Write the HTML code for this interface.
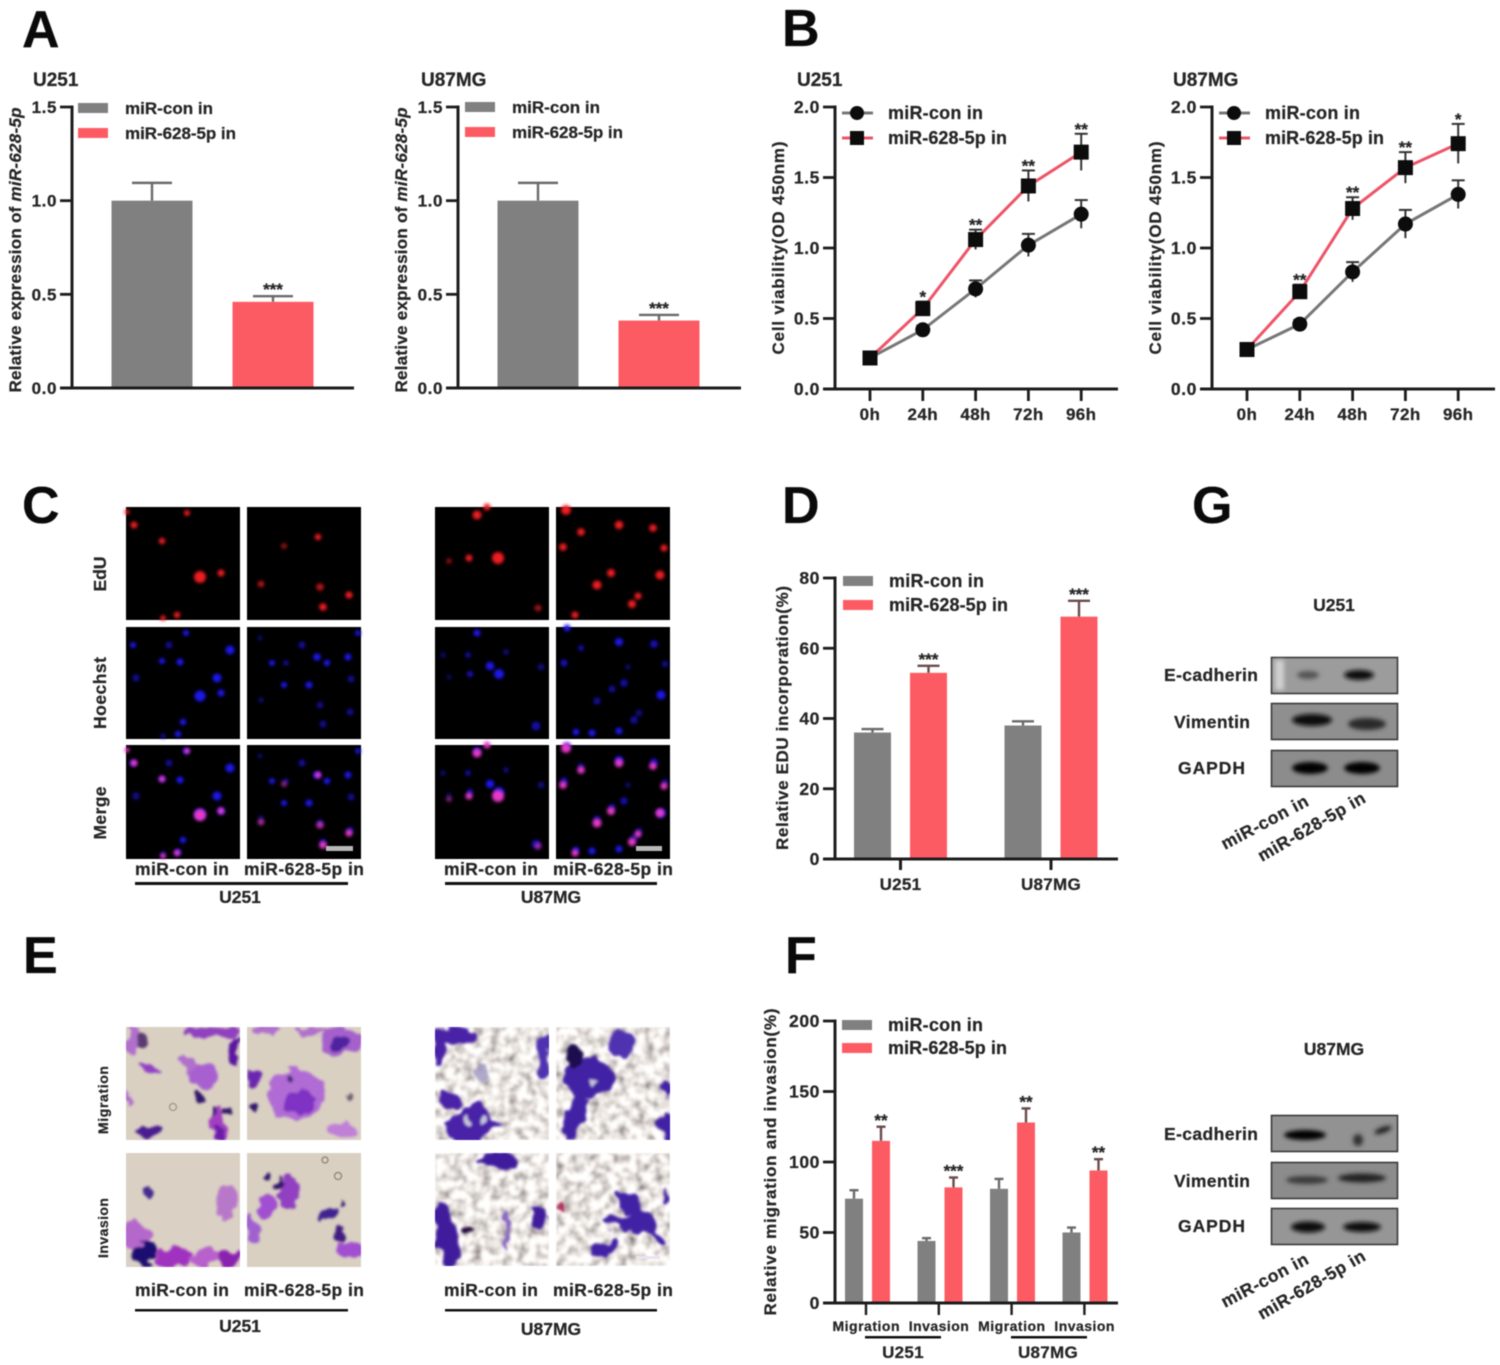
<!DOCTYPE html>
<html lang="en">
<head>
<meta charset="utf-8">
<title>miR-628-5p figure panels</title>
<style>
html,body{margin:0;padding:0;background:#fff;width:1500px;height:1365px;overflow:hidden}
#figure{display:block;filter:blur(0.65px);font-family:"Liberation Sans",Arial,sans-serif;font-weight:bold;fill:#262626}
#figure text{stroke:#262626;stroke-width:.25px}
.letter{font-size:52px;fill:#0a0a0a}
.lab{font-size:17.5px}
.lab2{font-size:14px}
</style>
</head>
<body>
<svg id="figure" xmlns="http://www.w3.org/2000/svg" width="1500" height="1365" viewBox="0 0 1500 1365">
<defs>
  <filter id="soft" x="-20%" y="-20%" width="140%" height="140%"><feGaussianBlur stdDeviation="1.5"/></filter>
  <filter id="blob" x="-20%" y="-20%" width="140%" height="140%">
    <feTurbulence type="fractalNoise" baseFrequency="0.07" numOctaves="2" seed="3" result="n"/>
    <feDisplacementMap in="SourceGraphic" in2="n" scale="16" xChannelSelector="R" yChannelSelector="G"/>
    <feGaussianBlur stdDeviation="1.4"/>
  </filter>
  <filter id="band" x="-40%" y="-80%" width="180%" height="260%"><feGaussianBlur stdDeviation="2.2"/></filter>
  <filter id="tex" x="0" y="0" width="100%" height="100%">
    <feTurbulence type="fractalNoise" baseFrequency="0.11" numOctaves="2" seed="7"/>
    <feColorMatrix type="matrix" values="0 0 0 1.5 0.08  0 0 0 1.5 0.04  0 0 0 1.4 0.06  0 0 0 0 1"/>
    <feGaussianBlur stdDeviation="1"/>
  </filter>
  <g id="e1"><circle cx="134" cy="525" r="3.5"/><circle cx="187" cy="513" r="3"/><circle cx="162" cy="541" r="3.2"/><circle cx="200" cy="577" r="6"/><circle cx="221" cy="573" r="3.5"/><circle cx="177" cy="615" r="3.2"/><circle cx="163" cy="618" r="2.8"/><circle cx="127" cy="512" r="2.5"/></g>
  <g id="e2"><circle cx="318" cy="537" r="3.2"/><circle cx="284" cy="546" r="3" opacity=".6"/><circle cx="261" cy="584" r="3.3" opacity=".75"/><circle cx="320" cy="587" r="3.8" opacity=".75"/><circle cx="349" cy="595" r="3.6"/><circle cx="323" cy="607" r="3.8"/></g>
  <g id="e3"><circle cx="477" cy="515" r="4.5"/><circle cx="487" cy="507" r="3.5"/><circle cx="449" cy="561" r="3" opacity=".55"/><circle cx="469" cy="558" r="3.5"/><circle cx="498" cy="558" r="6"/><circle cx="538" cy="608" r="3.5" opacity=".65"/></g>
  <g id="e4"><circle cx="566" cy="510" r="5"/><circle cx="619" cy="525" r="4.2"/><circle cx="581" cy="532" r="3.8"/><circle cx="653" cy="528" r="3.8"/><circle cx="563" cy="547" r="3.8"/><circle cx="664" cy="548" r="3.5"/><circle cx="611" cy="573" r="4"/><circle cx="660" cy="575" r="4.5"/><circle cx="597" cy="585" r="4.5"/><circle cx="638" cy="596" r="3.5"/><circle cx="632" cy="604" r="4"/><circle cx="575" cy="615" r="3.5"/></g>
  <g id="h1"><circle cx="133" cy="645" r="3"/><circle cx="169" cy="645" r="3.5" opacity=".6"/><circle cx="186" cy="633" r="3"/><circle cx="230" cy="650" r="4.5"/><circle cx="162" cy="661" r="3"/><circle cx="180" cy="662" r="3.5"/><circle cx="136" cy="678" r="3.8" opacity=".55"/><circle cx="217" cy="678" r="4.5"/><circle cx="200" cy="696" r="5.5"/><circle cx="221" cy="693" r="3.5"/><circle cx="183" cy="722" r="3.2"/><circle cx="178" cy="734" r="3.2"/><circle cx="163" cy="736" r="2.8" opacity=".6"/></g>
  <g id="h2"><circle cx="302" cy="645" r="3.5" opacity=".65"/><circle cx="260" cy="638" r="3" opacity=".35"/><circle cx="272" cy="663" r="3"/><circle cx="286" cy="663" r="3" opacity=".55"/><circle cx="317" cy="657" r="3.8"/><circle cx="327" cy="663" r="3.2"/><circle cx="348" cy="657" r="3.5"/><circle cx="358" cy="633" r="2.8"/><circle cx="351" cy="679" r="3.5" opacity=".6"/><circle cx="284" cy="685" r="3"/><circle cx="309" cy="685" r="3.5"/><circle cx="261" cy="700" r="3.2" opacity=".35"/><circle cx="320" cy="705" r="3.5" opacity=".55"/><circle cx="350" cy="712" r="3.5" opacity=".6"/><circle cx="323" cy="724" r="3.5" opacity=".6"/></g>
  <g id="h3"><circle cx="477" cy="633" r="3.5"/><circle cx="443" cy="655" r="3" opacity=".4"/><circle cx="468" cy="655" r="3" opacity=".65"/><circle cx="506" cy="652" r="3" opacity=".5"/><circle cx="490" cy="666" r="4.2"/><circle cx="499" cy="674" r="5"/><circle cx="470" cy="674" r="3.2" opacity=".75"/><circle cx="541" cy="667" r="3.5" opacity=".5"/><circle cx="449" cy="677" r="3" opacity=".3"/><circle cx="536" cy="726" r="4.5" opacity=".7"/></g>
  <g id="h4"><circle cx="567" cy="628" r="3.5"/><circle cx="619" cy="642" r="4"/><circle cx="581" cy="648" r="3" opacity=".7"/><circle cx="654" cy="644" r="3.8" opacity=".8"/><circle cx="564" cy="663" r="3.5" opacity=".8"/><circle cx="665" cy="664" r="3.2" opacity=".6"/><circle cx="628" cy="667" r="3" opacity=".4"/><circle cx="624" cy="683" r="3.8" opacity=".7"/><circle cx="612" cy="689" r="3.3" opacity=".7"/><circle cx="661" cy="695" r="4.5"/><circle cx="597" cy="701" r="3.8" opacity=".6"/><circle cx="634" cy="720" r="3.8" opacity=".65"/><circle cx="639" cy="713" r="3.5" opacity=".5"/><circle cx="576" cy="732" r="3.3"/><circle cx="592" cy="733" r="3.5"/><circle cx="619" cy="731" r="3.5"/></g>
</defs>
<rect width="1500" height="1365" fill="#fff"/>

<!-- panel letters -->
<text class="letter" x="22" y="47">A</text>
<text class="letter" x="782" y="46">B</text>
<text class="letter" x="22" y="523">C</text>
<text class="letter" x="782" y="523">D</text>
<text class="letter" x="1192" y="523">G</text>
<text class="letter" x="23" y="973">E</text>
<text class="letter" x="785" y="973">F</text>

<!-- panel C: EdU micrographs -->
<g>
  <g fill="#000">
    <rect x="126" y="507" width="114" height="113"/><rect x="247" y="507" width="114" height="113"/><rect x="435" y="507" width="114" height="113"/><rect x="556" y="507" width="114" height="113"/>
    <rect x="126" y="627" width="114" height="112"/><rect x="247" y="627" width="114" height="112"/><rect x="435" y="627" width="114" height="112"/><rect x="556" y="627" width="114" height="112"/>
    <rect x="126" y="745" width="114" height="114"/><rect x="247" y="745" width="114" height="114"/><rect x="435" y="745" width="114" height="114"/><rect x="556" y="745" width="114" height="114"/>
  </g>
  <g filter="url(#soft)" fill="#f01a22"><use href="#e1"/><use href="#e2"/><use href="#e3"/><use href="#e4"/></g>
  <g filter="url(#soft)" fill="#1f14f0"><use href="#h1"/><use href="#h2"/><use href="#h3"/><use href="#h4"/></g>
  <g filter="url(#soft)" fill="#1f14f0" transform="translate(0,118)"><use href="#h1"/><use href="#h2"/><use href="#h3"/><use href="#h4"/></g>
  <g filter="url(#soft)" fill="#e838c8" transform="translate(0,238)"><use href="#e1"/><use href="#e2"/><use href="#e3"/><use href="#e4"/></g>
  <rect x="326" y="846" width="27" height="5" fill="#b8b8b8"/>
  <rect x="636" y="846" width="26" height="5" fill="#b8b8b8"/>
  <text class="lab" transform="translate(106,574) rotate(-90)" text-anchor="middle">EdU</text>
  <text class="lab" transform="translate(106,693) rotate(-90)" text-anchor="middle" textLength="72">Hoechst</text>
  <text class="lab" transform="translate(106,813) rotate(-90)" text-anchor="middle" textLength="53">Merge</text>
  <text class="lab" x="135" y="875" textLength="94">miR-con in</text>
  <text class="lab" x="244" y="875" textLength="120">miR-628-5p in</text>
  <text class="lab" x="444" y="875" textLength="94">miR-con in</text>
  <text class="lab" x="553" y="875" textLength="120">miR-628-5p in</text>
  <rect x="135" y="882" width="213" height="3" fill="#111"/>
  <rect x="445" y="882" width="212" height="3" fill="#111"/>
  <text class="lab" x="240" y="903" text-anchor="middle">U251</text>
  <text class="lab" x="551" y="903" text-anchor="middle">U87MG</text>
</g>

<!-- panel E: transwell micrographs -->
<g>
  <svg x="126" y="1027" width="114" height="113" viewBox="126 1027 114 113">
    <rect x="126" y="1027" width="114" height="113" fill="#d9d0c2"/>
    <g filter="url(#blob)">
      <ellipse cx="133" cy="1040" rx="8" ry="13" fill="#b070cc"/><ellipse cx="142" cy="1041" rx="5" ry="7" fill="#5a3a70"/>
      <ellipse cx="150" cy="1068" rx="12" ry="5" fill="#9040c4" transform="rotate(25 150 1068)"/>
      <ellipse cx="210" cy="1033" rx="28" ry="6" fill="#9040c0"/><ellipse cx="235" cy="1050" rx="6" ry="14" fill="#5a18a0"/>
      <ellipse cx="197" cy="1072" rx="22" ry="6" fill="#b070cc" transform="rotate(45 197 1072)"/><ellipse cx="205" cy="1075" rx="12" ry="13" fill="#a860d0"/>
      <ellipse cx="198" cy="1097" rx="4" ry="6" fill="#33186a"/>
      <ellipse cx="220" cy="1125" rx="8" ry="15" fill="#a040c0"/><ellipse cx="219" cy="1132" rx="5" ry="8" fill="#6a1ca8"/><circle cx="215" cy="1113" r="3" fill="#33186a"/><circle cx="227" cy="1111" r="3" fill="#33186a"/>
      <ellipse cx="150" cy="1131" rx="13" ry="6" fill="#4a1a90"/><ellipse cx="129" cy="1098" rx="3" ry="6" fill="#b070cc"/>
    </g>
    <circle cx="173" cy="1107" r="3.5" fill="none" stroke="#a89e90" stroke-width="1.5"/>
  </svg>
  <svg x="247" y="1027" width="114" height="113" viewBox="247 1027 114 113">
    <rect x="247" y="1027" width="114" height="113" fill="#d9d0c2"/>
    <g filter="url(#blob)">
      <ellipse cx="268" cy="1030" rx="14" ry="5" fill="#b070cc"/><ellipse cx="340" cy="1040" rx="20" ry="14" fill="#a560cc"/><ellipse cx="342" cy="1042" rx="8" ry="8" fill="#5020a0"/><ellipse cx="310" cy="1031" rx="16" ry="4" fill="#b070cc"/>
      <ellipse cx="255" cy="1078" rx="8" ry="8" fill="#6a28b0"/>
      <ellipse cx="295" cy="1095" rx="28" ry="25" fill="#b06cd4"/><ellipse cx="300" cy="1102" rx="15" ry="13" fill="#8030c4"/><circle cx="290" cy="1078" r="4" fill="#4a2a80"/>
      <circle cx="253" cy="1108" r="5" fill="#33186a"/><circle cx="348" cy="1095" r="3" fill="#6f6070"/><ellipse cx="340" cy="1132" rx="16" ry="9" fill="#c080d8"/>
    </g>
  </svg>
  <svg x="126" y="1153" width="114" height="114" viewBox="126 1153 114 114">
    <rect x="126" y="1153" width="114" height="114" fill="#dad1c4"/>
    <g filter="url(#blob)">
      <ellipse cx="134" cy="1235" rx="14" ry="14" fill="#b568cc"/><ellipse cx="175" cy="1257" rx="18" ry="12" fill="#a030c0"/><ellipse cx="205" cy="1258" rx="14" ry="10" fill="#b860cc"/><ellipse cx="228" cy="1258" rx="12" ry="8" fill="#8a20b0"/>
      <circle cx="145" cy="1254" r="12" fill="#1a0a70"/><ellipse cx="226" cy="1201" rx="10" ry="15" fill="#b878ca"/><circle cx="147" cy="1192" r="4" fill="#4a2a90"/>
    </g>
  </svg>
  <svg x="247" y="1153" width="114" height="114" viewBox="247 1153 114 114">
    <rect x="247" y="1153" width="114" height="114" fill="#d9d0c2"/>
    <g filter="url(#blob)">
      <ellipse cx="290" cy="1190" rx="10" ry="17" fill="#9040c0"/><ellipse cx="267" cy="1205" rx="10" ry="14" fill="#a050d0" transform="rotate(20 267 1205)"/><ellipse cx="253" cy="1230" rx="6" ry="14" fill="#a060d0" transform="rotate(-15 253 1230)"/>
      <circle cx="266" cy="1175" r="4.5" fill="#33186a"/><ellipse cx="278" cy="1183" rx="6" ry="5" fill="#33186a"/>
      <ellipse cx="330" cy="1212" rx="8" ry="8" fill="#402090"/><circle cx="340" cy="1202" r="3" fill="#33186a"/><ellipse cx="340" cy="1235" rx="6" ry="8" fill="#401a80"/><ellipse cx="350" cy="1250" rx="14" ry="8" fill="#a050d0"/>
    </g>
    <circle cx="338" cy="1176" r="3.5" fill="none" stroke="#968c80" stroke-width="1.5"/><circle cx="325" cy="1160" r="3" fill="none" stroke="#968c80" stroke-width="1.5"/>
  </svg>
  <svg x="435" y="1027" width="114" height="113" viewBox="435 1027 114 113">
    <rect x="435" y="1027" width="114" height="113" filter="url(#tex)"/>
    <g filter="url(#blob)" fill="#4a22a8">
      <ellipse cx="455" cy="1036" rx="24" ry="9"/><ellipse cx="440" cy="1050" rx="6" ry="12"/><ellipse cx="543" cy="1057" rx="7" ry="24" fill="#5030b0"/>
      <ellipse cx="450" cy="1100" rx="14" ry="8" transform="rotate(25 450 1100)"/>
      <polygon points="448,1125 465,1110 482,1100 500,1125 480,1142 448,1142"/><ellipse cx="480" cy="1072" rx="7" ry="8" fill="#9088b8" opacity=".7"/>
      <circle cx="468" cy="1122" r="4" fill="#c8c4dc"/><circle cx="485" cy="1120" r="3.5" fill="#c8c4dc"/>
    </g>
  </svg>
  <svg x="556" y="1027" width="114" height="113" viewBox="556 1027 114 113">
    <rect x="556" y="1027" width="114" height="113" filter="url(#tex)"/>
    <g filter="url(#blob)" fill="#4220a4">
      <ellipse cx="588" cy="1078" rx="26" ry="20"/><ellipse cx="575" cy="1118" rx="9" ry="24" transform="rotate(22 575 1118)"/><ellipse cx="622" cy="1045" rx="14" ry="13" fill="#5030b0"/>
      <ellipse cx="666" cy="1127" rx="8" ry="15"/><ellipse cx="666" cy="1087" rx="6" ry="9"/><ellipse cx="573" cy="1056" rx="8" ry="12" fill="#1f0e50"/><circle cx="592" cy="1080" r="3.5" fill="#c8c4dc"/>
    </g>
  </svg>
  <svg x="435" y="1153" width="114" height="113" viewBox="435 1153 114 113">
    <rect x="435" y="1153" width="114" height="113" filter="url(#tex)"/>
    <g filter="url(#blob)" fill="#3f1c9c">
      <ellipse cx="498" cy="1161" rx="19" ry="9"/><ellipse cx="447" cy="1235" rx="11" ry="34" transform="rotate(-15 447 1235)"/><ellipse cx="540" cy="1218" rx="9" ry="10"/><ellipse cx="506" cy="1232" rx="3.5" ry="20" fill="#8a6ac0"/><circle cx="469" cy="1231" r="4" fill="#2a0f40"/>
    </g>
  </svg>
  <svg x="556" y="1153" width="114" height="113" viewBox="556 1153 114 113">
    <rect x="556" y="1153" width="114" height="113" filter="url(#tex)"/>
    <g filter="url(#blob)" fill="#4220a4">
      <ellipse cx="636" cy="1212" rx="26" ry="8" transform="rotate(45 636 1212)"/><ellipse cx="628" cy="1224" rx="28" ry="6" transform="rotate(10 628 1224)"/><ellipse cx="605" cy="1248" rx="15" ry="6" transform="rotate(-25 605 1248)"/><ellipse cx="660" cy="1237" rx="12" ry="5" transform="rotate(40 660 1237)"/><ellipse cx="666" cy="1197" rx="3" ry="8"/><circle cx="561" cy="1208" r="4" fill="#b03060"/>
    </g>
  </svg>
  <rect x="636" y="1256" width="24" height="3" fill="#e8e4f0"/>
  <text class="lab2" transform="translate(108,1100) rotate(-90)" text-anchor="middle" textLength="68">Migration</text>
  <text class="lab2" transform="translate(108,1228) rotate(-90)" text-anchor="middle" textLength="60">Invasion</text>
  <text class="lab" x="135" y="1296" textLength="94">miR-con in</text>
  <text class="lab" x="244" y="1296" textLength="120">miR-628-5p in</text>
  <text class="lab" x="444" y="1296" textLength="94">miR-con in</text>
  <text class="lab" x="553" y="1296" textLength="120">miR-628-5p in</text>
  <rect x="135" y="1309" width="213" height="2.5" fill="#111"/>
  <rect x="445" y="1309" width="212" height="2.5" fill="#111"/>
  <text class="lab" x="240" y="1332" text-anchor="middle">U251</text>
  <text class="lab" x="551" y="1335" text-anchor="middle">U87MG</text>
</g>

<!-- panel G: western blots -->
<g>
  <text class="lab" x="1334" y="611" text-anchor="middle">U251</text>
  <rect x="1271.5" y="657.5" width="126" height="36" fill="#9c9c9c" stroke="#3a3a3a" stroke-width="1.6"/>
  <rect x="1271.5" y="703.5" width="126" height="36" fill="#8f8f8f" stroke="#3a3a3a" stroke-width="1.6"/>
  <rect x="1271.5" y="750.5" width="126" height="36" fill="#8c8c8c" stroke="#3a3a3a" stroke-width="1.6"/>
  <g filter="url(#band)" fill="#111">
    <rect x="1275" y="660" width="9" height="30" fill="#d0d0d0"/>
    <ellipse cx="1308" cy="675" rx="11" ry="4" fill="#555"/><ellipse cx="1359" cy="675" rx="15" ry="5"/>
    <ellipse cx="1312" cy="720" rx="20" ry="6"/><ellipse cx="1367" cy="724" rx="19" ry="6" fill="#2a2a2a"/>
    <ellipse cx="1310" cy="768" rx="18" ry="6" fill="#000"/><ellipse cx="1362" cy="768" rx="18" ry="6" fill="#000"/>
  </g>
  <text class="lab" x="1164" y="681" textLength="94">E-cadherin</text>
  <text class="lab" x="1174" y="728" textLength="76">Vimentin</text>
  <text class="lab" x="1178" y="774" textLength="67">GAPDH</text>
  <text class="lab" transform="translate(1225,850) rotate(-28)" textLength="96">miR-con in</text>
  <text class="lab" transform="translate(1262,862) rotate(-30)" textLength="121">miR-628-5p in</text>
</g>
<g>
  <text class="lab" x="1334" y="1055" text-anchor="middle">U87MG</text>
  <rect x="1271.5" y="1115.5" width="126" height="36" fill="#929292" stroke="#3a3a3a" stroke-width="1.6"/>
  <rect x="1271.5" y="1162.5" width="126" height="36" fill="#8c8c8c" stroke="#3a3a3a" stroke-width="1.6"/>
  <rect x="1271.5" y="1208.5" width="126" height="36" fill="#969696" stroke="#3a3a3a" stroke-width="1.6"/>
  <g filter="url(#band)" fill="#111">
    <ellipse cx="1305" cy="1135" rx="21" ry="5" fill="#000"/><ellipse cx="1358" cy="1140" rx="5" ry="6" fill="#333"/><ellipse cx="1383" cy="1130" rx="9" ry="3" fill="#222" transform="rotate(-20 1383 1130)"/>
    <ellipse cx="1307" cy="1180" rx="21" ry="4" fill="#3a3a3a"/><ellipse cx="1362" cy="1178" rx="24" ry="4.5" fill="#222"/>
    <ellipse cx="1308" cy="1227" rx="17" ry="5.5"/><ellipse cx="1362" cy="1227" rx="19" ry="5"/>
  </g>
  <text class="lab" x="1164" y="1140" textLength="94">E-cadherin</text>
  <text class="lab" x="1174" y="1187" textLength="76">Vimentin</text>
  <text class="lab" x="1178" y="1232" textLength="67">GAPDH</text>
  <text class="lab" transform="translate(1225,1308) rotate(-28)" textLength="96">miR-con in</text>
  <text class="lab" transform="translate(1262,1320) rotate(-30)" textLength="121">miR-628-5p in</text>
</g>

<g id="charts"></g>
</svg>

<script>
// ---- chart data ----
const legendLabels = ['miR-con in', 'miR-628-5p in'];

const expressionTicks = ['0.0', '0.5', '1.0', '1.5'];
const exprU251Values = [1.0, 0.46];
const exprU251Errors = [0.095, 0.03];
const exprU251Sig = ['', '***'];
const exprU87Values = [1.0, 0.36];
const exprU87Errors = [0.095, 0.03];
const exprU87Sig = ['', '***'];

const timepoints = ['0h', '24h', '48h', '72h', '96h'];
const viabilityTicks = ['0.0', '0.5', '1.0', '1.5', '2.0'];
const viabU251Con = [0.22, 0.42, 0.71, 1.02, 1.24];
const viabU251ConErr = [0.02, 0.03, 0.06, 0.08, 0.10];
const viabU251In = [0.22, 0.57, 1.06, 1.44, 1.68];
const viabU251InErr = [0.02, 0.05, 0.07, 0.11, 0.13];
const viabU251Sig = ['', '*', '**', '**', '**'];
const viabU87Con = [0.28, 0.46, 0.83, 1.17, 1.38];
const viabU87ConErr = [0.02, 0.03, 0.07, 0.10, 0.10];
const viabU87In = [0.28, 0.69, 1.28, 1.57, 1.74];
const viabU87InErr = [0.02, 0.05, 0.08, 0.11, 0.14];
const viabU87Sig = ['', '**', '**', '**', '*'];

const eduCategories = ['U251', 'U87MG'];
const eduTicks = ['0', '20', '40', '60', '80'];
const eduCon = [36, 38];
const eduConErr = [1, 1.2];
const eduIn = [53, 69];
const eduInErr = [2, 4.5];
const eduSig = ['***', '***'];

const migCategories = ['Migration', 'Invasion', 'Migration', 'Invasion'];
const migTicks = ['0', '50', '100', '150', '200'];
const migCon = [74, 44, 81, 50];
const migConErr = [6, 2, 7, 3.5];
const migIn = [115, 82, 128, 94];
const migInErr = [10, 7, 10, 8];
const migSig = ['**', '***', '**', '**'];

// ---- drawing helpers ----
const NS = 'http://www.w3.org/2000/svg';
const GRAY = '#808080', RED = '#fd5b63', INK = '#1c1c1c';
const root = document.getElementById('charts');

function el(tag, attrs, parent) {
  const n = document.createElementNS(NS, tag);
  for (const k in attrs) n.setAttribute(k, attrs[k]);
  parent.appendChild(n);
  return n;
}
function txt(parent, s, x, y, size, anchor, len) {
  const t = el('text', {x: x, y: y, 'font-size': size, 'text-anchor': anchor || 'start'}, parent);
  if (len) t.setAttribute('textLength', len);
  t.textContent = s;
  return t;
}
function panel(name) {
  const g = el('g', {}, root);
  
  
  return g;
}
function scaleY(frame) {
  return function (v) { return frame.base - v / frame.max * (frame.base - frame.top); };
}
function drawAxes(g, frame, ticks, y) {
  const yAxis = el('line', {x1: frame.axis, x2: frame.axis, y1: frame.top - 1.5, y2: frame.base + 1.5, stroke: INK, 'stroke-width': 3}, g);
  
  
  const xAxis = el('line', {x1: frame.axis - frame.tickLen, x2: frame.right, y1: frame.base, y2: frame.base, stroke: INK, 'stroke-width': 3}, g);
  
  
  ticks.forEach(function (lab) {
    const v = parseFloat(lab);
    const tick = el('line', {x1: frame.axis - frame.tickLen, x2: frame.axis, y1: y(v), y2: y(v), stroke: INK, 'stroke-width': 2.8}, g);
    
    
    const t = txt(g, lab, frame.axis - frame.tickLen - 3, y(v) + 6, frame.tickSize, 'end');
    t.setAttribute('letter-spacing', '0.6');
    
    
  });
}
function yTitle(g, parts, x, cy, len, size) {
  const t = el('text', {'font-size': size, 'text-anchor': 'middle', textLength: len, transform: 'translate(' + x + ',' + cy + ') rotate(-90)'}, g);
  parts.forEach(function (p) {
    const s = el('tspan', {}, t);
    if (p.italic) s.setAttribute('font-style', 'italic');
    s.textContent = p.text;
  });
  
  
}
function errorBar(g, x, y0, y1, capW, color, width) {
  const stem = el('line', {x1: x, x2: x, y1: y0, y2: y1, stroke: color, 'stroke-width': width}, g);
  
  
  const cap = el('line', {x1: x - capW / 2, x2: x + capW / 2, y1: y1, y2: y1, stroke: color, 'stroke-width': width}, g);
  
  
}
function drawBar(g, cx, v, err, sig, y, frame, w, capW, color, errColor) {
  errorBar(g, cx, y(v), y(v + err), capW, errColor, 2.4);
  const bar = el('rect', {x: cx - w / 2, y: y(v), width: w, height: frame.base - y(v), fill: color}, g);
  
  
  if (sig) {
    const s = txt(g, sig, cx, y(v + err) - 1, 17, 'middle');
    
    
  }
}
function swatchLegend(g, x, textX, y0, y1, textOffset, size, w1, w2) {
  [y0, y1].forEach(function (y, i) {
    const r = el('rect', {x: x, y: y - 5, width: 30, height: 10, fill: i ? RED : GRAY}, g);
    
    
    const t = txt(g, legendLabels[i], textX, y + textOffset, size, 'start', i ? w2 : w1);
    
    
  });
}

// ---- panel A ----
function drawExpression(name, title, titleX, frame, titleAxisX, values, errors, sigs, firstX, step, legendX, legendTextX, ly0, ly1) {
  const g = panel(name);
  const y = scaleY(frame);
  const h = txt(g, title, titleX, 86, 19);
  
  
  yTitle(g, [{text: 'Relative expression of '}, {text: 'miR-628-5p', italic: true}], titleAxisX, 250, 285, 17);
  values.forEach(function (v, i) {
    drawBar(g, firstX + i * step, v, errors[i], sigs[i], y, frame, 81, 40, i ? RED : GRAY, '#6a6a6a');
  });
  drawAxes(g, frame, expressionTicks, y);
  swatchLegend(g, legendX, legendTextX, ly0, ly1, 6, 17, 88, 111);
}
const frameA1 = {axis: 72, right: 354, top: 107, base: 388, max: 1.5, tickLen: 12, tickSize: 17};
const frameA2 = {axis: 458, right: 741, top: 107, base: 388, max: 1.5, tickLen: 12, tickSize: 17};
drawExpression('chart-expression-u251', 'U251', 33, frameA1, 21, exprU251Values, exprU251Errors, exprU251Sig, 152, 121, 78, 125, 108, 133);
drawExpression('chart-expression-u87mg', 'U87MG', 421, frameA2, 407, exprU87Values, exprU87Errors, exprU87Sig, 538, 121, 465, 512, 107, 132);

// ---- panel B ----
function drawViability(name, title, titleX, dx, con, conErr, inn, innErr, sigs) {
  const g = panel(name);
  const frame = {axis: 835 + dx, right: 1118 + dx, top: 107, base: 389, max: 2, tickLen: 12, tickSize: 17.5};
  const y = scaleY(frame);
  const x = function (i) { return 870 + dx + i * 52.8; };
  const h = txt(g, title, titleX, 86, 19, 'start');
  
  
  yTitle(g, [{text: 'Cell viability(OD 450nm)'}], 784 + dx, 248, 213, 17);
  drawAxes(g, frame, viabilityTicks, y);
  timepoints.forEach(function (lab, i) {
    const tick = el('line', {x1: x(i), x2: x(i), y1: frame.base, y2: frame.base + 12, stroke: INK, 'stroke-width': 2.8}, g);
    
    
    const t = txt(g, lab, x(i), 420, 17, 'middle');
    t.setAttribute('letter-spacing', '0.4');
    
    
  });
  const linePath = function (vals) { return vals.map(function (v, i) { return (i ? 'L' : 'M') + x(i) + ' ' + y(v); }).join(' '); };
  const conLine = el('path', {d: linePath(con), fill: 'none', stroke: '#777', 'stroke-width': 3}, g);
  
  
  const inLine = el('path', {d: linePath(inn), fill: 'none', stroke: '#ee5468', 'stroke-width': 3}, g);
  
  
  con.forEach(function (v, i) {
    errorBar(g, x(i), y(v - conErr[i]), y(v + conErr[i]), 13, '#333', 2);
    const c = el('circle', {cx: x(i), cy: y(v), r: 7.5, fill: '#0c0c0c'}, g);
    
    
  });
  inn.forEach(function (v, i) {
    errorBar(g, x(i), y(v - innErr[i]), y(v + innErr[i]), 13, '#333', 2);
    const s = el('rect', {x: x(i) - 7.5, y: y(v) - 7.5, width: 15, height: 15, fill: '#0c0c0c'}, g);
    
    
    if (sigs[i]) {
      const lab = txt(g, sigs[i], x(i), y(v + innErr[i]) + 1, 17, 'middle');
      
      
    }
  });
  [113, 138].forEach(function (ly, i) {
    const l = el('line', {x1: 842 + dx, x2: 873 + dx, y1: ly, y2: ly, stroke: i ? '#ee5468' : '#777', 'stroke-width': 3}, g);
    
    
    const mark = i
      ? el('rect', {x: 850 + dx, y: ly - 7, width: 14, height: 14, fill: '#0c0c0c'}, g)
      : el('circle', {cx: 857 + dx, cy: ly, r: 7, fill: '#0c0c0c'}, g);
    
    
    const t = txt(g, legendLabels[i], 888 + dx, ly + 6, 18, 'start', i ? 119 : 95);
    
    
  });
}
drawViability('chart-viability-u251', 'U251', 797, 0, viabU251Con, viabU251ConErr, viabU251In, viabU251InErr, viabU251Sig);
drawViability('chart-viability-u87mg', 'U87MG', 1173, 377, viabU87Con, viabU87ConErr, viabU87In, viabU87InErr, viabU87Sig);

// ---- panel D ----
(function () {
  const g = panel('chart-edu-incorporation');
  const frame = {axis: 835, right: 1118, top: 578, base: 859, max: 80, tickLen: 12, tickSize: 17.5};
  const y = scaleY(frame);
  yTitle(g, [{text: 'Relative EDU incorporation(%)'}], 788, 718, 264, 17);
  eduCategories.forEach(function (cat, i) {
    const c = 900.5 + i * 150.5;
    drawBar(g, c - 28, eduCon[i], eduConErr[i], '', y, frame, 37, 22, GRAY, '#6a6a6a');
    drawBar(g, c + 28, eduIn[i], eduInErr[i], eduSig[i], y, frame, 37, 22, RED, '#6a4a4a');
    const tick = el('line', {x1: c, x2: c, y1: frame.base, y2: frame.base + 11, stroke: INK, 'stroke-width': 3}, g);
    
    
    const t = txt(g, cat, c, 890, 17, 'middle');
    t.setAttribute('letter-spacing', '0.3');
    
    
  });
  drawAxes(g, frame, eduTicks, y);
  swatchLegend(g, 843, 889, 581, 605, 6, 18, 95, 119);
})();

// ---- panel F ----
(function () {
  const g = panel('chart-migration-invasion');
  const frame = {axis: 835, right: 1118, top: 1021, base: 1303, max: 200, tickLen: 12, tickSize: 17.5};
  const y = scaleY(frame);
  yTitle(g, [{text: 'Relative migration and invasion(%)'}], 776, 1162, 307, 17);
  migCategories.forEach(function (cat, i) {
    const c = 867.5 + i * 72.5;
    drawBar(g, c - 13.5, migCon[i], migConErr[i], '', y, frame, 18, 9, GRAY, '#6a6a6a');
    drawBar(g, c + 13.5, migIn[i], migInErr[i], migSig[i], y, frame, 18, 9, RED, '#6a4a4a');
    const tx = 866 + i * 72.8;
    const tick = el('line', {x1: tx, x2: tx, y1: frame.base, y2: frame.base + 12, stroke: INK, 'stroke-width': 2.4}, g);
    
    
    const t = txt(g, cat, tx, 1331, 14, 'middle', i % 2 ? 60 : 67);
    
    
  });
  drawAxes(g, frame, migTicks, y);
  swatchLegend(g, 842, 888, 1025, 1048, 6, 18, 95, 119);
  [[865, 941, 903, 'U251'], [1011, 1087, 1048, 'U87MG']].forEach(function (b) {
    const l = el('rect', {x: b[0], y: 1336, width: b[1] - b[0], height: 2.5, fill: '#111'}, g);
    
    
    const t = txt(g, b[3], b[2], 1358, 17, 'middle');
    t.setAttribute('letter-spacing', '0.3');
    
    
  });
})();
</script>
</body>
</html>
